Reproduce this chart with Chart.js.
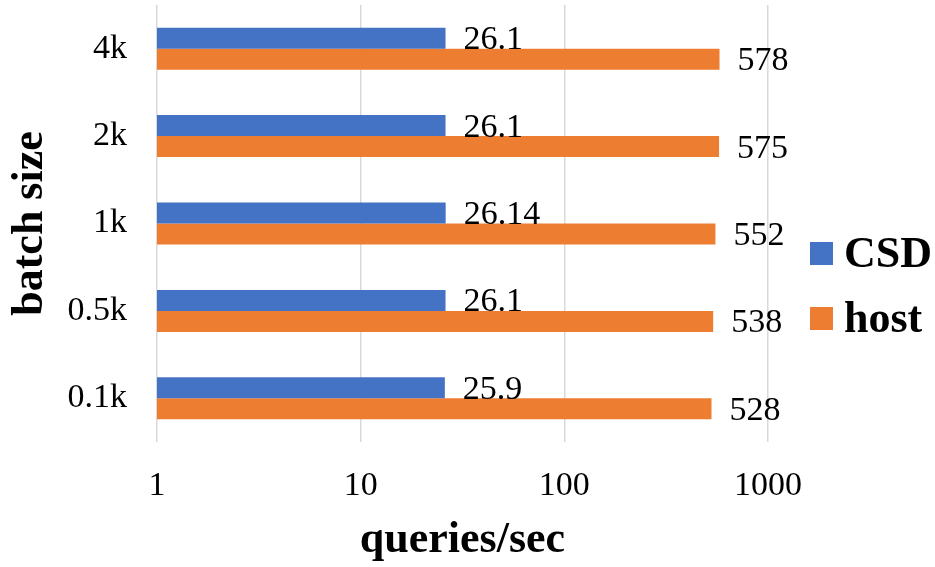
<!DOCTYPE html>
<html>
<head>
<meta charset="utf-8">
<script src="https://cdn.jsdelivr.net/npm/chart.js@4/dist/chart.umd.min.js"></script>
<style>
  html, body { margin: 0; padding: 0; background: #fff; }
  #wrap { position: relative; width: 935px; height: 567px; }
  #legend { position: absolute; left: 810px; top: 231px; }
  .legend-item { display: flex; align-items: center; height: 44px; margin-bottom: 21px;
                 font: bold 44px 'Liberation Serif', 'Times New Roman', serif; line-height: 44px; color: #000; }
  .legend-box { width: 23px; height: 23px; margin-right: 11px; }
</style>
</head>
<body>
<div id="wrap">
  <canvas id="myChart" width="935" height="567"></canvas>
  <div id="legend"></div>
</div>
<script>
// data
var batchSizes = ["4k", "2k", "1k", "0.5k", "0.1k"];
var csdValues  = [26.1, 26.1, 26.14, 26.1, 25.9];
var hostValues = [578, 575, 552, 538, 528];
var xTicks     = [1, 10, 100, 1000];

var serif = "'Liberation Serif', 'Times New Roman', serif";

//* value labels at the end of each bar
var barLabels = {
    id: 'barLabels',
    afterDatasetsDraw: function(chart) {
        var ctx = chart.ctx;
        ctx.save();
        ctx.font = "34px " + serif;
        ctx.fillStyle = "#000";
        ctx.textAlign = "left";
        ctx.textBaseline = "middle";
        chart.data.datasets.forEach(function(ds, i) {
            var meta = chart.getDatasetMeta(i);
            meta.data.forEach(function(bar, j) {
                ctx.fillText(String(ds.data[j]), bar.x + 18, bar.y + 2);
            });
        });
        ctx.restore();
    }
};

var ctx = document.getElementById("myChart").getContext('2d');
var myChart = new Chart(ctx, {
    type: 'bar',
    data: {
        labels: batchSizes,
        datasets: [{
            label: "CSD",
            data: csdValues,
            backgroundColor: '#4472C4',
            borderWidth: 0
        }, {
            label: "host",
            data: hostValues,
            backgroundColor: '#ED7D31',
            borderWidth: 0
        }]
    },
    options: {
        indexAxis: 'y',
        responsive: false,
        animation: false,
        categoryPercentage: 0.48,
        barPercentage: 1.0,
        layout: { padding: { top: 5, right: 167, bottom: 0, left: 4 } },
        plugins: {
            tooltip: { enabled: false },
            legend: { display: false }
        },
        scales: {
            x: {
                type: 'logarithmic',
                min: 1,
                max: 1000,
                afterBuildTicks: function(scale) {
                    scale.ticks = xTicks.map(function(v) { return { value: v }; });
                },
                afterFit: function(scale) {
                    scale.paddingLeft = 0;
                    scale.paddingRight = 0;
                    scale.height = 125;
                },
                ticks: {
                    font: { family: serif, size: 34 },
                    color: '#000',
                    padding: 24,
                    maxRotation: 0,
                    callback: function(v) { return String(v); }
                },
                grid: { color: '#d9d9d9', lineWidth: 1.5, drawTicks: false },
                border: { display: false },
                title: {
                    display: true,
                    text: "queries/sec",
                    font: { family: serif, size: 44, weight: 'bold' },
                    color: '#000',
                    padding: { top: 7, bottom: 0 }
                }
            },
            y: {
                afterFit: function(scale) {
                    scale.paddingTop = 0;
                    scale.paddingBottom = 0;
                    scale.width = 153;
                },
                ticks: {
                    font: { family: serif, size: 34 },
                    color: '#000',
                    padding: 30
                },
                grid: { display: false, drawTicks: false },
                border: { display: false },
                title: {
                    display: true,
                    text: "batch size",
                    font: { family: serif, size: 44, weight: 'bold' },
                    color: '#000',
                    padding: { top: 0, bottom: 10 }
                }
            }
        }
    },
    plugins: [barLabels]
});

/*---------------HTML legend ---------------*/
var legendEl = document.getElementById("legend");
myChart.data.datasets.forEach(function(ds) {
    var item = document.createElement("div");
    item.className = "legend-item";
    var box = document.createElement("span");
    box.className = "legend-box";
    box.style.background = ds.backgroundColor;
    item.appendChild(box);
    item.appendChild(document.createTextNode(ds.label));
    legendEl.appendChild(item);
});
</script>
</body>
</html>
